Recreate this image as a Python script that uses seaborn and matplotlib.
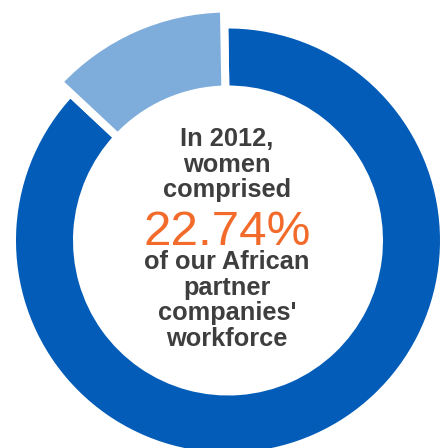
import matplotlib
matplotlib.use("Agg")
import matplotlib.pyplot as plt
import seaborn as sns

# Workforce split shown by the ring (share of total, %)
segments = ["Men", "Women"]
shares = [87.25, 12.75]
palette = ["#035cb8", "#7eaddb"]

headline_top = ["In 2012,", "women", "comprised"]
headline_value = "22.74%"
headline_bottom = ["of our African", "partner", "companies'", "workforce"]

sns.set_theme(style="white")
plt.rcParams["font.family"] = ["Liberation Sans", "DejaVu Sans"]
colors = sns.color_palette(palette)

fig = plt.figure(figsize=(4.48, 4.48), dpi=100)
ax = fig.add_axes([0, 0, 1, 1])

gap_pt = 5.8          # white separation between segments (points)
gap_px = gap_pt / 0.72
cx, cy = 228, 448 - 240.5
outer, inner = 212, 155

wedges, _ = ax.pie(
    shares,
    colors=colors,
    startangle=91,
    counterclock=False,
    center=(cx, cy),
    radius=outer + gap_px / 2,
    wedgeprops=dict(width=outer - inner + gap_px, edgecolor="white",
                    linewidth=gap_pt, joinstyle="miter"),
    frame=False,
)
# highlighted segment sticks out further than the rest of the ring
hl_outer = 228
wedges[1].set_radius(hl_outer + gap_px / 2)
wedges[1].set_width(hl_outer - inner + gap_px)

ax.set_xlim(0, 448)
ax.set_ylim(0, 448)
ax.set_aspect("equal")
ax.axis("off")

text_color = "#3e3e3e"
tx = 227
step = 25.7
for i, line in enumerate(headline_top):
    ax.text(tx, 448 - (146 + i * step), line, ha="center", va="baseline",
            fontsize=18.3, fontweight="bold", color=text_color)
ax.text(tx, 448 - 245, headline_value, ha="center", va="baseline",
        fontsize=35.5, color="#f26b2b")
for i, line in enumerate(headline_bottom):
    ax.text(tx, 448 - (269 + i * step), line, ha="center", va="baseline",
            fontsize=18.3, fontweight="bold", color=text_color)

fig.savefig("out.png", dpi=100, facecolor="white")
